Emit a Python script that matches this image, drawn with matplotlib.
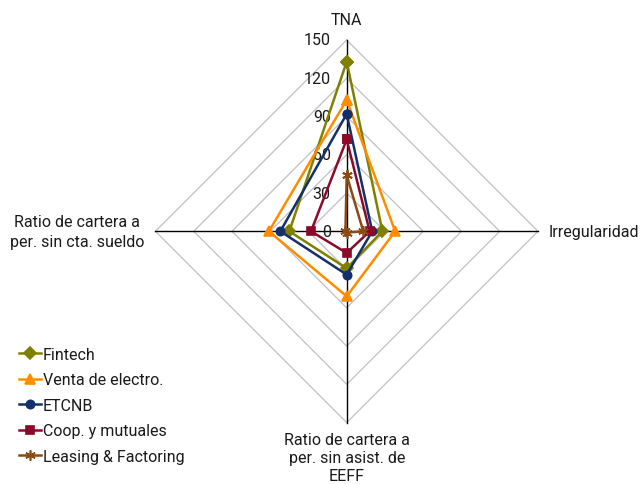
import numpy as np
import matplotlib.pyplot as plt

plt.rcParams['font.family'] = ['Roboto', 'DejaVu Sans']

# ejes del radar, en sentido horario desde arriba
axis_labels = ['TNA', 'Irregularidad',
               'Ratio de cartera a\nper. sin asist. de\nEEFF',
               'Ratio de cartera a\nper. sin cta. sueldo']
ticks = [0, 30, 60, 90, 120, 150]

series_names = ['Fintech', 'Venta de electro.', 'ETCNB', 'Coop. y mutuales',
                'Leasing & Factoring']
fintech = [133, 28, 29, 45]
venta = [103, 38, 51, 61]
etcnb = [92, 20, 34, 52]
coop = [72, 18, 17, 28]
leasing = [44, 13, 1, 1]

colors = ['#808000', '#ff8c00', '#13306b', '#8b0a2a', '#8b4a14']
markers = ['D', '^', 'o', 's', (6, 2, 0)]
msizes = [6, 7.5, 6, 5.5, 7.5]

angles = np.pi / 2 - np.arange(4) * np.pi / 2


def to_xy(vals):
    v = np.array(vals + vals[:1], dtype=float)
    a = np.append(angles, angles[0])
    return v * np.cos(a), v * np.sin(a)


fig = plt.figure(figsize=(6.41, 4.85), dpi=100)
ax = fig.add_axes([0, 0, 1, 1])
scale = 191.3 / 150
cx, cy = 346.7, 232.3
ax.set_xlim(-cx / scale, (641 - cx) / scale)
ax.set_ylim(-(485 - cy) / scale, cy / scale)
ax.axis('off')

fs = 11.5
txt_c = '#1a1a1a'

# grid
for t in ticks[1:]:
    gx, gy = to_xy([t] * 4)
    ax.plot(gx, gy, color='#c0c0c0', lw=0.9, zorder=1)
for a in angles:
    ax.plot([0, 150 * np.cos(a)], [0, 150 * np.sin(a)], color='black', lw=1.0, zorder=2)

for t in ticks:
    ax.annotate(str(t), (0, t), xytext=(-11.5, 0), textcoords='offset points',
                ha='right', va='center', fontsize=fs, color=txt_c)

# etiquetas de ejes
ax.annotate(axis_labels[0], (0, 150), xytext=(0, 15), textcoords='offset points',
            ha='center', va='center', fontsize=fs, color=txt_c)
ax.annotate(axis_labels[1], (150, 0), xytext=(8, 0), textcoords='offset points',
            ha='left', va='center', fontsize=fs, color=txt_c)
ax.annotate(axis_labels[2], (0, -150), xytext=(0, -7), textcoords='offset points',
            ha='center', va='top', fontsize=fs, color=txt_c, linespacing=1.25)
ax.annotate(axis_labels[3], (-150, 0), xytext=(-8, 0), textcoords='offset points',
            ha='right', va='center', fontsize=fs, color=txt_c, linespacing=1.38,
            multialignment='center')

all_series = [fintech, venta, etcnb, coop, leasing]
for name, vals, c, m, ms in zip(series_names, all_series, colors, markers, msizes):
    x, y = to_xy(vals)
    ax.plot(x, y, color=c, lw=1.8, marker=m, markersize=ms, markeredgewidth=1.2,
            label=name, zorder=3)

leg = ax.legend(loc='lower left', bbox_to_anchor=(12.5 / 641, 13.7 / 485),
                frameon=False, fontsize=fs, handlelength=1.4, handletextpad=0.08,
                labelspacing=0.66, borderaxespad=0)
for txt in leg.get_texts():
    txt.set_color(txt_c)

fig.savefig('out.png', dpi=100)
